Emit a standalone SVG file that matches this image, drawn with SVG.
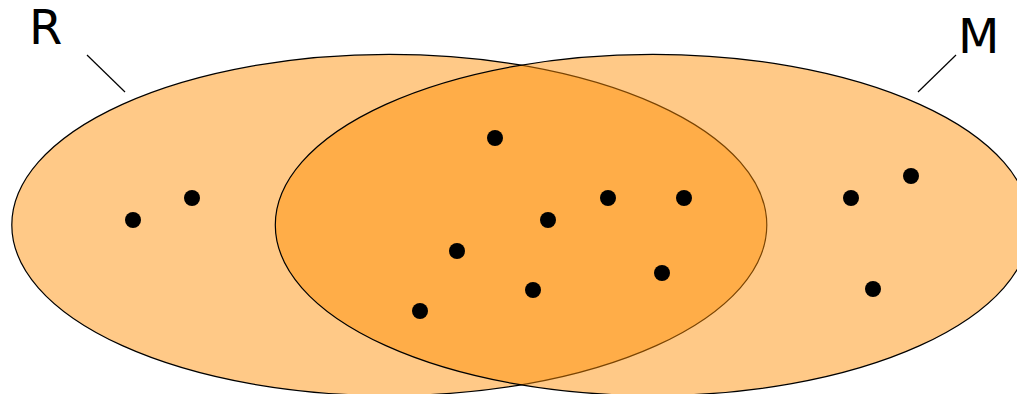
<svg xmlns="http://www.w3.org/2000/svg" width="1017" height="394" viewBox="0 0 1017 394">
<style>
.set{fill:#ff8e05;fill-opacity:0.48;stroke:#000;stroke-width:1.2}
.dot{fill:#000}
.lbl{font-family:"DejaVu Sans","Liberation Sans",sans-serif;font-size:48px;fill:#000}
.lead{stroke:#000;stroke-width:1.2;fill:none}
</style>
<rect width="1017" height="394" fill="#fff"/>
<g id="set-R">
<ellipse class="set" cx="389.3" cy="225" rx="377.5" ry="170.6"/>
</g>
<g id="set-M">
<ellipse class="set" cx="652.8" cy="225" rx="377.5" ry="170.6"/>
</g>
<g id="connectors">
<line class="lead" x1="87" y1="55" x2="125" y2="92"/>
<line class="lead" x1="956" y1="55" x2="918" y2="92"/>
</g>
<g id="label-R"><text class="lbl" x="29" y="43.5">R</text></g>
<g id="label-M"><text class="lbl" x="958" y="53.3">M</text></g>
<g id="points">
<circle class="dot" cx="133" cy="220" r="8"/>
<circle class="dot" cx="192" cy="198" r="8"/>
<circle class="dot" cx="495" cy="138" r="8"/>
<circle class="dot" cx="548" cy="220" r="8"/>
<circle class="dot" cx="608" cy="198" r="8"/>
<circle class="dot" cx="684" cy="198" r="8"/>
<circle class="dot" cx="457" cy="251" r="8"/>
<circle class="dot" cx="533" cy="290" r="8"/>
<circle class="dot" cx="662" cy="273" r="8"/>
<circle class="dot" cx="420" cy="311" r="8"/>
<circle class="dot" cx="851" cy="198" r="8"/>
<circle class="dot" cx="911" cy="176" r="8"/>
<circle class="dot" cx="873" cy="289" r="8"/>
</g>
</svg>
